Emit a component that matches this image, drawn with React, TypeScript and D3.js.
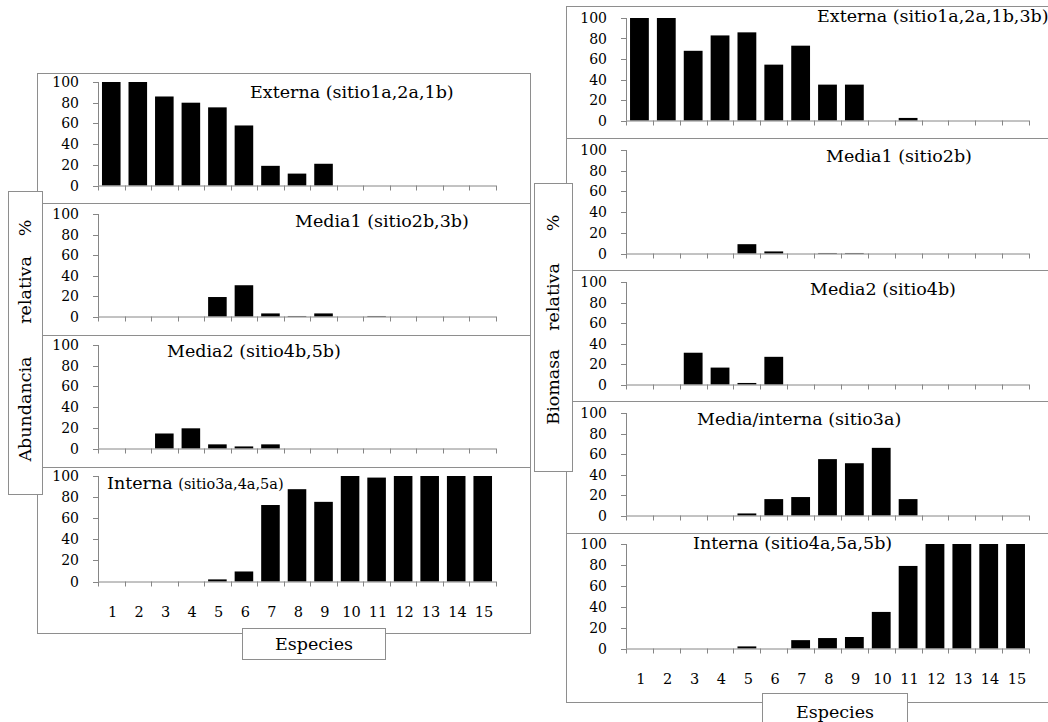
import React from "react";
import * as d3 from "d3";

const species = ["1","2","3","4","5","6","7","8","9","10","11","12","13","14","15"];
const yTicks = [0, 20, 40, 60, 80, 100];

// Abundancia relativa %
const abunExterna = [100, 100, 86, 80, 75.5, 58, 19, 11.5, 21, 0, 0, 0, 0, 0, 0];
const abunMedia1 = [0, 0, 0, 0, 19, 30.5, 3, 0.5, 3, 0, 0.5, 0, 0, 0, 0];
const abunMedia2 = [0, 0, 14.5, 19.5, 4, 2, 4, 0, 0, 0, 0, 0, 0, 0, 0];
const abunInterna = [0, 0, 0, 0, 2, 9.5, 72.5, 87.5, 75.5, 100, 98.5, 100, 100, 100, 100];

// Biomasa relativa %
const bioExterna = [100, 100, 68, 83, 86, 54.5, 73, 35, 35, 0, 2.5, 0, 0, 0, 0];
const bioMedia1 = [0, 0, 0, 0, 9, 2, 0, 0.5, 0.5, 0, 0, 0, 0, 0, 0];
const bioMedia2 = [0, 0, 31, 16.5, 1.5, 27, 0, 0, 0, 0, 0, 0, 0, 0, 0];
const bioMediaInterna = [0, 0, 0, 0, 2, 16, 18, 55, 51, 66, 16, 0, 0, 0, 0];
const bioInterna = [0, 0, 0, 0, 2, 0, 8, 10, 11, 35, 79, 100, 100, 100, 100];

const FONT = "'DejaVu Serif', Cambria, serif";
const AXIS = "#868686";
const BORDER = "#8e8e8e";

type PanelProps = {
  values: number[];
  boxX0: number; boxX1: number; boxY0: number; boxY1: number;
  axisX0: number; axisX1: number; plotTop: number; plotBottom: number;
  title: React.ReactNode; titleX: number; titleY: number;
  showXLabels?: boolean; xLabelY?: number;
};

function Panel(p: PanelProps) {
  const x = d3.scaleBand<string>().domain(species).range([p.axisX0, p.axisX1]).paddingInner(0.3).paddingOuter(0.15);
  const y = d3.scaleLinear().domain([0, 100]).range([p.plotBottom, p.plotTop]);
  const step = x.step();
  const boundaries = d3.range(species.length + 1).map(i => p.axisX0 + i * (p.axisX1 - p.axisX0) / species.length);
  return (
    <g>
      <rect x={p.boxX0} y={p.boxY0} width={p.boxX1 - p.boxX0} height={p.boxY1 - p.boxY0} fill="white" stroke={BORDER} strokeWidth={1} />
      {p.values.map((v, i) => v > 0 ? (
        <rect key={i} x={x(species[i])} y={y(v)} width={x.bandwidth()} height={y(0) - y(v)} fill="black" />
      ) : null)}
      <line x1={p.axisX0 + 0.5} x2={p.axisX0 + 0.5} y1={y(100)} y2={y(0)} stroke={AXIS} />
      <line x1={p.axisX0} x2={p.axisX1} y1={y(0) + 0.5} y2={y(0) + 0.5} stroke={AXIS} />
      {yTicks.map(t => (
        <g key={t}>
          <line x1={p.axisX0 - 5} x2={p.axisX0} y1={Math.round(y(t)) + 0.5} y2={Math.round(y(t)) + 0.5} stroke={AXIS} />
          <text x={p.axisX0 - 19} y={y(t)} dy="0.36em" textAnchor="end" fontFamily={FONT} fontSize={14}>{t}</text>
        </g>
      ))}
      {boundaries.map((b, i) => (
        <line key={i} x1={Math.round(b) + 0.5} x2={Math.round(b) + 0.5} y1={y(0)} y2={y(0) + 5} stroke={AXIS} />
      ))}
      {p.showXLabels && species.map(s => (
        <text key={s} x={(x(s) as number) + x.bandwidth() / 2 + step * 0.05} y={p.xLabelY} dy="0.36em" textAnchor="middle" fontFamily={FONT} fontSize={14.5}>{s}</text>
      ))}
      <text x={p.titleX} y={p.titleY} fontFamily={FONT} fontSize={17.5}>{p.title}</text>
    </g>
  );
}

export default function App() {
  const L = { boxX0: 37.5, boxX1: 530.5, axisX0: 98, axisX1: 496 };
  const leftPanels = [
    { values: abunExterna, y0: 73.5, y1: 203.5, top: 82, bottom: 185.5, title: "Externa (sitio1a,2a,1b)", tx: 250, ty: 98 },
    { values: abunMedia1, y0: 203.5, y1: 335.5, top: 214, bottom: 316.5, title: "Media1 (sitio2b,3b)", tx: 295, ty: 227 },
    { values: abunMedia2, y0: 335.5, y1: 467.5, top: 345, bottom: 448.5, title: "Media2 (sitio4b,5b)", tx: 167, ty: 357 },
    { values: abunInterna, y0: 467.5, y1: 633.5, top: 476, bottom: 581.5, title: null, tx: 107, ty: 489 },
  ];
  const R = { boxX0: 566.5, boxX1: 1060, axisX0: 626, axisX1: 1029 };
  const rightPanels = [
    { values: bioExterna, y0: 6.5, y1: 138.5, top: 18, bottom: 120.5, title: "Externa (sitio1a,2a,1b,3b)", tx: 817, ty: 22 },
    { values: bioMedia1, y0: 138.5, y1: 270.5, top: 150, bottom: 253.5, title: "Media1 (sitio2b)", tx: 826, ty: 162 },
    { values: bioMedia2, y0: 270.5, y1: 401.5, top: 282, bottom: 384.5, title: "Media2 (sitio4b)", tx: 810, ty: 295 },
    { values: bioMediaInterna, y0: 401.5, y1: 533.5, top: 413, bottom: 515.5, title: "Media/interna (sitio3a)", tx: 697, ty: 425 },
    { values: bioInterna, y0: 533.5, y1: 702.5, top: 544, bottom: 648.5, title: "Interna (sitio4a,5a,5b)", tx: 693, ty: 549 },
  ];
  return (
    <svg width={1048} height={722} style={{ position: "absolute", left: 0, top: 0, background: "white" }}>
      <rect x={0} y={0} width={1048} height={722} fill="white" />
      {/* Left chart */}
      {leftPanels.map((p, i) => (
        <Panel key={i} values={p.values} boxX0={L.boxX0} boxX1={L.boxX1} boxY0={p.y0} boxY1={p.y1}
          axisX0={L.axisX0} axisX1={L.axisX1} plotTop={p.top} plotBottom={p.bottom}
          title={i === 3 ? (<><tspan>Interna </tspan><tspan fontSize={14.5}>(sitio3a,4a,5a)</tspan></>) : p.title}
          titleX={p.tx} titleY={p.ty} showXLabels={i === 3} xLabelY={612} />
      ))}
      <rect x={8.5} y={191.5} width={34} height={303} fill="white" stroke={BORDER} />
      <g fontFamily={FONT} fontSize={17.5} textAnchor="middle">
        <text transform="translate(31,228) rotate(-90)">%</text>
        <text transform="translate(31,290) rotate(-90)">relativa</text>
        <text transform="translate(31,409) rotate(-90)">Abundancia</text>
      </g>
      <rect x={242.5} y={628.5} width={143} height={31} fill="white" stroke={BORDER} />
      <text x={314} y={650} textAnchor="middle" fontFamily={FONT} fontSize={17.5}>Especies</text>

      {/* Right chart */}
      {rightPanels.map((p, i) => (
        <Panel key={i} values={p.values} boxX0={R.boxX0} boxX1={R.boxX1} boxY0={p.y0} boxY1={p.y1}
          axisX0={R.axisX0} axisX1={R.axisX1} plotTop={p.top} plotBottom={p.bottom}
          title={p.title} titleX={p.tx} titleY={p.ty} showXLabels={i === 4} xLabelY={679} />
      ))}
      <rect x={534.5} y={183.5} width={38} height={288} fill="white" stroke={BORDER} />
      <g fontFamily={FONT} fontSize={17.5} textAnchor="middle">
        <text transform="translate(559,223) rotate(-90)">%</text>
        <text transform="translate(559,297) rotate(-90)">relativa</text>
        <text transform="translate(559,387) rotate(-90)">Biomasa</text>
      </g>
      <rect x={762.5} y={693.5} width={145} height={40} fill="white" stroke={BORDER} />
      <text x={835} y={718} textAnchor="middle" fontFamily={FONT} fontSize={17.5}>Especies</text>
    </svg>
  );
}
